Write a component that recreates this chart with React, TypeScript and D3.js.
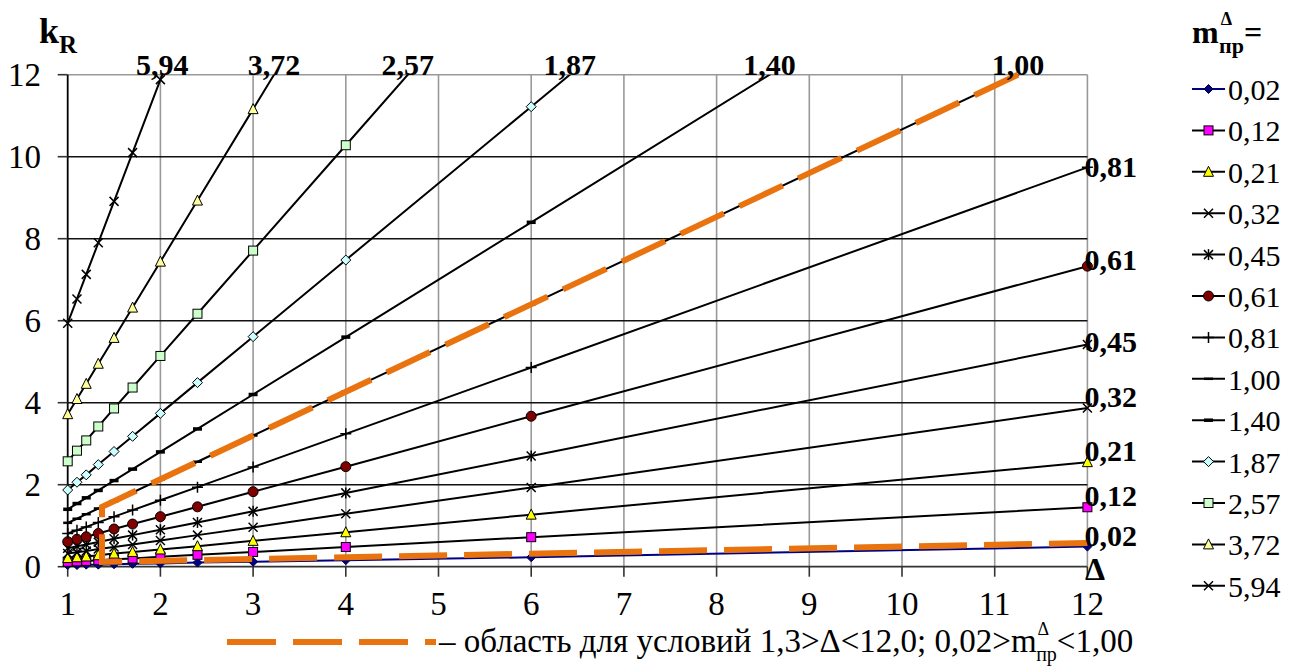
import { useEffect, useRef } from 'react';
import * as d3 from 'd3';

// Δ values where the points were taken
const deltas = [1, 1.1, 1.2, 1.33, 1.5, 1.7, 2, 2.4, 3, 4, 6, 12];

// series names (m пр Δ)
const seriesNames = ['0,02', '0,12', '0,21', '0,32', '0,45', '0,61', '0,81', '1,00', '1,40', '1,87', '2,57', '3,72', '5,94'];

// k_R values, one array per series
const k002 = [0.04, 0.04, 0.05, 0.05, 0.06, 0.07, 0.08, 0.1, 0.12, 0.16, 0.23, 0.49];
const k012 = [0.12, 0.13, 0.14, 0.16, 0.18, 0.2, 0.24, 0.29, 0.36, 0.48, 0.72, 1.45];
const k021 = [0.21, 0.23, 0.25, 0.28, 0.32, 0.36, 0.42, 0.5, 0.63, 0.84, 1.27, 2.55];
const k032 = [0.32, 0.35, 0.38, 0.43, 0.48, 0.54, 0.64, 0.77, 0.96, 1.29, 1.93, 3.87];
const k045 = [0.45, 0.5, 0.54, 0.6, 0.68, 0.77, 0.9, 1.08, 1.35, 1.8, 2.7, 5.42];
const k061 = [0.61, 0.67, 0.73, 0.81, 0.92, 1.04, 1.22, 1.46, 1.83, 2.44, 3.67, 7.33];
const k081 = [0.81, 0.89, 0.97, 1.08, 1.22, 1.38, 1.62, 1.94, 2.43, 3.24, 4.86, 9.74];
const k100 = [1.07, 1.17, 1.28, 1.42, 1.6, 1.81, 2.13, 2.56, 3.2, 4.27, 6.4, 12.8];
const k140 = [1.4, 1.54, 1.68, 1.86, 2.1, 2.38, 2.8, 3.36, 4.2, 5.6, 8.4, 16.8];
const k187 = [1.87, 2.06, 2.24, 2.49, 2.81, 3.18, 3.74, 4.49, 5.61, 7.48, 11.22, 22.44];
const k257 = [2.57, 2.83, 3.08, 3.42, 3.86, 4.37, 5.14, 6.17, 7.71, 10.28, 15.42, 30.84];
const k372 = [3.72, 4.09, 4.46, 4.95, 5.58, 6.32, 7.44, 8.93, 11.16, 14.88, 22.32, 44.64];
const k594 = [5.94, 6.53, 7.13, 7.9, 8.91, 10.1, 11.88, 14.26, 17.82, 23.76, 35.64, 71.28];

const seriesValues = [k002, k012, k021, k032, k045, k061, k081, k100, k140, k187, k257, k372, k594];

const xTicks = [1, 2, 3, 4, 5, 6, 7, 8, 9, 10, 11, 12];
const yTicks = [0, 2, 4, 6, 8, 10, 12];

// boundary of the region (orange dashed line)
const regionDelta = [11.25, 1.37, 1.37, 12];
const regionK = [12, 1.46, 0.115, 0.58];

const markerTypes = ['diamond', 'square', 'triangle', 'x', 'star', 'circle', 'plus', 'dash', 'dashBold', 'diamond', 'square', 'triangle', 'x'];
const markerFills = ['#000080', '#FF00FF', '#FFFF00', 'none', 'none', '#800000', 'none', 'none', 'none', '#CCFFFF', '#CCFFCC', '#FFFF99', 'none'];
const lineColors = ['#000080', '#000', '#000', '#000', '#000', '#000', '#000', '#000', '#000', '#000', '#000', '#000', '#000'];
// vertical nudge for the labels at the right edge
const rightLabelDy = [-11, -11, -11, -11, -2, -6, 0];

const FONT = '"Liberation Serif", "Times New Roman", serif';
const ORANGE = '#E8730F';

function drawMarker(g: any, type: string, fill: string, cx: number, cy: number) {
    const m = g.append('g').attr('transform', `translate(${cx},${cy})`);
    if (type === 'square') {
        m.append('rect').attr('x', -4.5).attr('y', -4.5).attr('width', 9).attr('height', 9)
            .attr('fill', fill).attr('stroke', '#000').attr('stroke-width', 1);
    } else if (type === 'diamond') {
        const r = fill === '#000080' ? 4.5 : 5;
        m.append('path').attr('d', `M0,${-r}L${r},0L0,${r}L${-r},0Z`)
            .attr('fill', fill).attr('stroke', fill === '#000080' ? '#000040' : '#000').attr('stroke-width', 1);
    } else if (type === 'triangle') {
        m.append('path').attr('d', 'M0,-5.5L5,4.5L-5,4.5Z')
            .attr('fill', fill).attr('stroke', '#000').attr('stroke-width', 1);
    } else if (type === 'circle') {
        m.append('circle').attr('r', 5).attr('fill', fill).attr('stroke', '#000').attr('stroke-width', 1);
    } else if (type === 'x' || type === 'star') {
        m.append('path').attr('d', 'M-4.5,-4.5L4.5,4.5M-4.5,4.5L4.5,-4.5')
            .attr('stroke', '#000').attr('stroke-width', 1.5);
        if (type === 'star') {
            m.append('path').attr('d', 'M0,-5.5L0,5.5').attr('stroke', '#000').attr('stroke-width', 1.5);
        }
    } else if (type === 'plus') {
        m.append('path').attr('d', 'M-5.5,0L5.5,0M0,-5.5L0,5.5').attr('stroke', '#000').attr('stroke-width', 1.5);
    } else if (type === 'dash' || type === 'dashBold') {
        m.append('path').attr('d', 'M-4.5,0L4.5,0').attr('stroke', '#000')
            .attr('stroke-width', type === 'dash' ? 2.5 : 3.5);
    }
}

export default function App() {
    const svgRef = useRef<SVGSVGElement>(null);

    useEffect(() => {
        const svg = d3.select(svgRef.current);
        svg.selectAll('*').remove();

        const W = 1301;
        const H = 668;
        svg.attr('width', W).attr('height', H);

        const x = d3.scaleLinear().domain([1, 12]).range([67.7, 1087.4]);
        const y = d3.scaleLinear().domain([0, 12]).range([566.7, 74.7]);

        const txt = (px: number, py: number, size: number, bold = false) =>
            svg.append('text').attr('x', px).attr('y', py)
                .style('font-family', FONT).attr('font-size', size)
                .attr('font-weight', bold ? 'bold' : 'normal');

        svg.append('rect').attr('width', W).attr('height', H).attr('fill', '#fff');

        // clip for the plot area
        svg.append('defs').append('clipPath').attr('id', 'plot-clip')
            .append('rect')
            .attr('x', x(1)).attr('y', y(12))
            .attr('width', x(12) - x(1)).attr('height', y(0) - y(12));

        // vertical grid
        xTicks.slice(1).forEach((t) => {
            svg.append('line').attr('x1', x(t)).attr('x2', x(t)).attr('y1', y(12)).attr('y2', y(0))
                .attr('stroke', '#999').attr('stroke-width', 1.6);
        });
        // horizontal grid
        yTicks.slice(1).forEach((t) => {
            svg.append('line').attr('x1', x(1)).attr('x2', x(12)).attr('y1', y(t)).attr('y2', y(t))
                .attr('stroke', t === 12 ? '#999' : '#111').attr('stroke-width', 1.6);
        });

        // axes
        svg.append('line').attr('x1', x(1)).attr('x2', x(1)).attr('y1', y(12)).attr('y2', y(0))
            .attr('stroke', '#000').attr('stroke-width', 1.8);
        svg.append('line').attr('x1', x(1)).attr('x2', x(12)).attr('y1', y(0)).attr('y2', y(0))
            .attr('stroke', '#333').attr('stroke-width', 1.8);

        yTicks.forEach((t) => {
            svg.append('line').attr('x1', x(1) - 10).attr('x2', x(1)).attr('y1', y(t)).attr('y2', y(t))
                .attr('stroke', '#333').attr('stroke-width', 1.6);
            txt(41, y(t) + 11, 33).attr('text-anchor', 'end').text(t);
        });
        xTicks.forEach((t) => {
            svg.append('line').attr('x1', x(t)).attr('x2', x(t)).attr('y1', y(0)).attr('y2', y(0) + 10)
                .attr('stroke', '#333').attr('stroke-width', 1.6);
            txt(x(t), 615, 33).attr('text-anchor', 'middle').text(t);
        });

        // axis titles
        const kT = txt(39, 43, 36, true);
        kT.append('tspan').text('k');
        kT.append('tspan').attr('dy', 10).attr('font-size', 25).text('R');

        txt(1085, 580, 32, true).text('Δ');

        // series lines
        const line = d3.line<number>().x((_, i) => x(deltas[i])).y((d) => y(d));
        const plot = svg.append('g').attr('clip-path', 'url(#plot-clip)');
        seriesValues.forEach((vals, si) => {
            plot.append('path').datum(vals).attr('d', line).attr('fill', 'none')
                .attr('stroke', lineColors[si]).attr('stroke-width', 2);
        });

        // markers
        seriesValues.forEach((vals, si) => {
            vals.forEach((v, i) => {
                if (v > 12.2) return;
                drawMarker(svg, markerTypes[si], markerFills[si], x(deltas[i]), y(v));
            });
        });

        // region boundary
        const regionLine = d3.line<number>().x((d) => x(d)).y((_, i) => y(regionK[i]));
        svg.append('path').datum(regionDelta).attr('d', regionLine).attr('fill', 'none')
            .attr('stroke', ORANGE).attr('stroke-width', 6).attr('stroke-dasharray', '48,17');

        // series labels: at the top where the line leaves the plot, otherwise at the right edge
        let ri = 0;
        seriesValues.forEach((vals, si) => {
            const last = vals[vals.length - 1];
            if (last > 12) {
                const j = vals.findIndex((v) => v > 12);
                const t = (12 - vals[j - 1]) / (vals[j] - vals[j - 1]);
                const dx = deltas[j - 1] + t * (deltas[j] - deltas[j - 1]);
                txt(x(dx), y(12), 30, true).attr('text-anchor', 'middle').text(seriesNames[si]);
            } else {
                txt(x(12) - 3, y(last) + 10 + rightLabelDy[ri], 30, true).text(seriesNames[si]);
                ri += 1;
            }
        });

        // legend
        const lt = txt(1192, 43, 32, true);
        lt.append('tspan').text('m');
        lt.append('tspan').attr('dy', -18).attr('dx', 2).attr('font-size', 18).text('Δ');
        lt.append('tspan').attr('dy', 28).attr('dx', -13).attr('font-size', 22).text('пр');
        lt.append('tspan').attr('dy', -10).text('=');

        seriesNames.forEach((name, i) => {
            const cy = 89 + 41.4 * i;
            svg.append('line').attr('x1', 1192).attr('x2', 1225).attr('y1', cy).attr('y2', cy)
                .attr('stroke', lineColors[i]).attr('stroke-width', 2);
            drawMarker(svg, markerTypes[i], markerFills[i], 1208.5, cy);
            txt(1228, cy + 11, 30).text(name);
        });

        // bottom note
        svg.append('line').attr('x1', 227).attr('x2', 436).attr('y1', 642).attr('y2', 642)
            .attr('stroke', ORANGE).attr('stroke-width', 6).attr('stroke-dasharray', '49,17');
        const note = txt(439, 652, 33);
        note.append('tspan').text('– область для условий 1,3>Δ<12,0; 0,02>m');
        note.append('tspan').attr('dy', -17).attr('dx', 1).attr('font-size', 18).text('Δ');
        note.append('tspan').attr('dy', 26).attr('dx', -13).attr('font-size', 20).text('пр');
        note.append('tspan').attr('dy', -9).text('<1,00');
    }, []);

    return (
        <div style={{ position: 'absolute', left: 0, top: 0 }}>
            <svg ref={svgRef}></svg>
        </div>
    );
}
